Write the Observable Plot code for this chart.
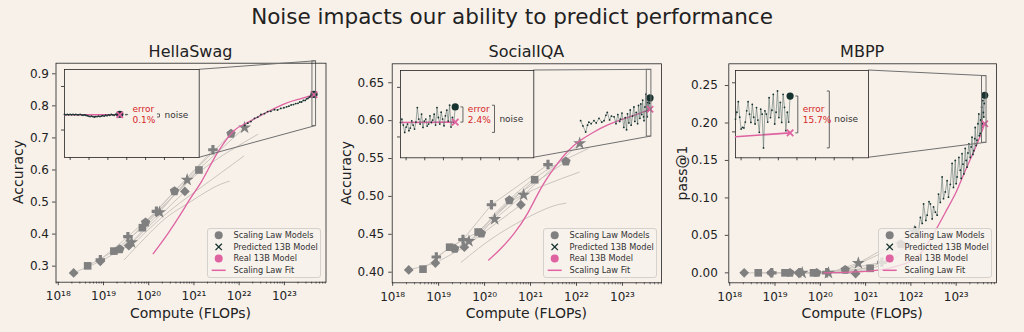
<!DOCTYPE html>
<html>
<head>
<meta charset="utf-8">
<script src="https://cdn.jsdelivr.net/npm/d3@7"></script>
<script src="https://cdn.jsdelivr.net/npm/@observablehq/plot@0.6"></script>
<style>
  html, body { margin: 0; padding: 0; background: #f7f1ea; }
  #root { position: relative; width: 1024px; height: 332px; overflow: hidden; font-family: "DejaVu Sans", sans-serif; color: #222; }
  .lbl { position: absolute; white-space: nowrap; line-height: 1; transform: translate(-50%, -50%); }
  .abs { position: absolute; }
</style>
</head>
<body>
<div id="root"></div>
<script>
// ================= DATA =================
const chartTitle = "Noise impacts our ability to predict performance";
const xLabel = "Compute (FLOPs)";
const legendItems = ["Scaling Law Models", "Predicted 13B Model", "Real 13B Model", "Scaling Law Fit"];
const xTickExp = [18, 19, 20, 21, 22, 23];
// marker of each scaling-ladder model (D diamond, S square, P plus, O pentagon, * star)
const modelShape = ["D","D","D","D","S","S","S","S","P","P","P","P","O","O","O","O","*","*","*","*"];

// ---- HellaSwag ----
const hsYTicks = [0.3, 0.4, 0.5, 0.6, 0.7, 0.8, 0.9];
const hsModelLogC = [18.34,18.93,19.56,20.80, 18.65,19.23,19.86,21.11, 18.93,19.54,20.17,21.42, 19.36,19.93,20.57,21.82, 19.62,20.24,20.85,22.12];
const hsModelAcc  = [0.279,0.315,0.364,0.533, 0.301,0.347,0.420,0.600, 0.320,0.392,0.471,0.663, 0.353,0.436,0.534,0.713, 0.374,0.468,0.569,0.732];
const hsTrendId   = ["a","a","a","a","a","b","b","b","b","c","c","c","c","c"];
const hsTrendLogC = [19.46,20.27,20.80,21.38,21.78, 19.70,20.40,21.16,22.10, 20.00,20.60,21.16,21.80,22.41];
const hsTrendAcc  = [0.320,0.437,0.490,0.541,0.565, 0.375,0.465,0.546,0.643, 0.445,0.525,0.598,0.660,0.711];
const hsFitLogC = [20.10,20.42,20.71,20.94,21.16,21.38,21.60,21.89,22.12,22.41,23.00,23.33,23.655];
const hsFitAcc  = [0.339,0.401,0.463,0.515,0.562,0.619,0.671,0.723,0.743,0.765,0.806,0.821,0.835];
const hsCkptLogC = [22.12,22.19,22.26,22.34,22.41,22.48,22.56,22.63,22.70,22.78,22.85,22.92,22.99,23.05,23.10,23.15,23.20,23.25,23.30,23.34,23.38,23.42,23.46,23.49,23.52,23.55,23.57,23.59,23.61,23.63,23.645,23.655];
const hsCkptAcc  = [0.739,0.746,0.751,0.761,0.765,0.773,0.776,0.782,0.783,0.788,0.787,0.792,0.794,0.797,0.799,0.803,0.804,0.807,0.808,0.812,0.812,0.817,0.817,0.822,0.823,0.827,0.828,0.831,0.832,0.834,0.833,0.836];
const hsInsetAcc = [0.836,0.835,0.836,0.835,0.836,0.835,0.836,0.835,0.836,0.835,
                    0.835,0.836,0.835,0.834,0.835,0.834,0.833,0.832,0.831,0.832,
                    0.831,0.830,0.831,0.831,0.832,0.831,0.832,0.833,0.832,0.834,
                    0.833,0.835,0.834,0.836,0.835,0.834,0.836,0.835,0.837,0.836];
const hsInsetFit = [0.835, 0.835];
const hsInsetTicks = [0.8, 0.9];

// ---- SocialIQA ----
const ssYTicks = [0.40, 0.45, 0.50, 0.55, 0.60, 0.65];
const ssModelLogC = [18.35,18.93,19.56,20.79, 18.66,19.24,19.86,21.09, 18.95,19.53,20.15,21.38, 19.35,19.93,20.54,21.77, 19.66,20.22,20.85,22.07];
const ssModelAcc  = [0.403,0.412,0.433,0.489, 0.404,0.433,0.453,0.522, 0.420,0.443,0.489,0.542, 0.431,0.451,0.495,0.546, 0.441,0.470,0.502,0.570];
const ssTrendId   = ["a","a","a","a","b","b","b","b","c","c","c","c"];
const ssTrendLogC = [19.49,20.30,21.27,21.77, 19.90,20.50,21.27,22.06, 20.10,20.80,21.50,22.25];
const ssTrendAcc  = [0.413,0.450,0.482,0.491, 0.455,0.490,0.514,0.532, 0.470,0.510,0.540,0.563];
const ssFitLogC = [20.09,20.35,20.64,20.93,21.22,21.51,21.80,22.09,22.38,22.67,22.96,23.25,23.60];
const ssFitAcc  = [0.416,0.431,0.451,0.477,0.510,0.537,0.559,0.574,0.585,0.594,0.601,0.607,0.615];
const ssCkptLogC = [22.09,22.14,22.20,22.24,22.27,22.32,22.38,22.43,22.49,22.55,22.60,22.64,22.67,22.72,22.76,22.82,22.86,22.90,22.94,22.96,
                    22.99,23.03,23.06,23.09,23.11,23.14,23.17,23.19,23.22,23.25,23.27,23.30,23.33,23.35,23.38,23.40,23.42,23.44,23.46,23.47,
                    23.49,23.51,23.52,23.54,23.55,23.56,23.57,23.58,23.59,23.60];
const ssCkptAcc  = [0.600,0.593,0.585,0.594,0.598,0.596,0.600,0.597,0.603,0.598,0.600,0.607,0.611,0.601,0.606,0.605,0.596,0.608,0.599,0.602,
                    0.610,0.591,0.604,0.588,0.609,0.597,0.614,0.594,0.606,0.618,0.599,0.611,0.596,0.620,0.603,0.622,0.608,0.627,0.605,0.600,
                    0.618,0.635,0.612,0.605,0.624,0.613,0.629,0.616,0.623,0.630];
const ssInsetAcc = [0.6146,0.6180,0.6120,0.6046,0.6100,0.6130,0.6063,0.6090,0.6163,0.6120,
                    0.6080,0.6150,0.6296,0.6180,0.6130,0.6230,0.6096,0.6160,0.6180,0.6110,
                    0.6130,0.6213,0.6146,0.6170,0.6230,0.6120,0.6296,0.6196,0.6130,0.6250,
                    0.6180,0.6113,0.6213,0.6270,0.6160,0.6320,0.6100,0.6196,0.6140,0.6303];
const ssInsetFit = [0.6146, 0.6150];
const ssInsetTicks = [0.60, 0.65];

// ---- MBPP ----
const mbYTicks = [0.00, 0.05, 0.10, 0.15, 0.20, 0.25];
const mbModelLogC = [18.32,18.91,19.52,20.78, 18.63,19.22,19.85,21.10, 18.93,19.55,20.14,21.36, 19.33,19.92,20.55,21.78, 19.60,20.18,20.84,22.08];
const mbModelPass = [0.000,0.000,0.000,-0.001, 0.000,0.000,0.000,0.006, 0.000,0.000,0.000,0.014, 0.000,0.000,0.004,0.038, 0.000,0.000,0.013,0.055];
const mbTrendId   = ["a","a","a","a","b","b","b","b"];
const mbTrendLogC = [20.20,21.00,21.60,22.00, 20.40,21.20,21.80,22.20];
const mbTrendPass = [0.000,0.004,0.018,0.035, 0.001,0.010,0.030,0.055];
const mbFitLogC = [20.08,21.00,21.50,21.90,22.20,22.50,22.80,23.00,23.17,23.46,23.63];
const mbFitPass = [0.000,0.002,0.006,0.013,0.025,0.052,0.085,0.108,0.132,0.172,0.199];
const mbCkptLogC = [22.10,22.16,22.21,22.25,22.28,22.33,22.36,22.40,22.43,22.47,22.50,22.54,22.58,22.61,22.65,22.69,22.72,22.76,22.80,22.83,
                    22.87,22.91,22.94,22.98,23.00,23.02,23.06,23.09,23.11,23.13,23.15,23.17,23.20,23.22,23.24,23.26,23.28,23.31,23.33,23.35,
                    23.37,23.39,23.41,23.42,23.44,23.46,23.48,23.50,23.51,23.53,23.54,23.56,23.57,23.58,23.59,23.60,23.61,23.62,23.63];
const mbCkptPass = [0.061,0.052,0.074,0.066,0.092,0.070,0.077,0.095,0.092,0.072,0.088,0.081,0.077,0.105,0.094,0.128,0.099,0.108,0.123,0.101,
                    0.118,0.146,0.114,0.150,0.119,0.128,0.154,0.137,0.126,0.159,0.145,0.132,0.166,0.150,0.141,0.160,0.172,0.154,0.168,0.181,
                    0.158,0.163,0.179,0.194,0.170,0.177,0.199,0.212,0.183,0.186,0.204,0.221,0.195,0.199,0.230,0.214,0.208,0.226,0.237];
const mbInsetPass = [0.2130,0.2200,0.2308,0.2150,0.2029,0.2045,0.2040,0.2100,0.2214,0.2308,
                     0.2180,0.2096,0.2281,0.2150,0.2080,0.2247,0.2120,0.1995,0.2231,0.2180,
                     0.1837,0.2214,0.2181,0.2100,0.2348,0.2146,0.2220,0.2382,0.2080,0.2200,
                     0.2416,0.2146,0.2300,0.2096,0.2382,0.2250,0.2012,0.2200,0.2100,0.2365];
const mbInsetFit = [0.195, 0.199];
const mbInsetTicks = [0.20, 0.25];

// ================= STYLE / LAYOUT =================
const BG = "#f7f1ea", GRAY = "#808080", LIGHT = "#cbc5bf", PINK = "#df62a1", DARK = "#17332f",
      NOISE = "#5b6f6b", RED = "#d62728", INK = "#222", CONN = "#707070";

const pentagon = {
  draw(ctx, size) {
    const R = Math.sqrt(size / 2.3776);
    for (let k = 0; k < 5; ++k) {
      const a = -Math.PI / 2 + k * 2 * Math.PI / 5;
      const x = R * Math.cos(a), y = R * Math.sin(a);
      k ? ctx.lineTo(x, y) : ctx.moveTo(x, y);
    }
    ctx.closePath();
  }
};
const shapeSymbol = {D: "diamond2", S: "square", P: "cross", O: pentagon, "*": "star"};
const shapeR = {D: 4.4, S: 4.3, P: 4.0, O: 4.3, "*": 4.1};

const panels = [
  {title: "HellaSwag", ylab: "Accuracy", ylabX: 18.3, svgLeft: 0, svgWidth: 340, yPad: 3.5,
   frame: {l: 55.5, r: 325.5, t: 62.7, b: 281.7}, xDom: [17.95, 23.92], yDom: [0.25, 0.933], yTicks: hsYTicks, yFmt: ".1f",
   modelLogC: hsModelLogC, modelVal: hsModelAcc, trendId: hsTrendId, trendLogC: hsTrendLogC, trendVal: hsTrendAcc,
   fitLogC: hsFitLogC, fitVal: hsFitAcc, ckptLogC: hsCkptLogC, ckptVal: hsCkptAcc,
   zoomLogC: [23.62, 23.70], insetDom: [0.737, 0.939], insetTicks: hsInsetTicks, insetVal: hsInsetAcc, insetFit: hsInsetFit,
   errLabel: "0.1%", inset: {l: 64.3, t: 69.3, w: 134.7, h: 88}},
  {title: "SocialIQA", ylab: "Accuracy", ylabX: 346, svgLeft: 340, svgWidth: 340, yPad: 4.5,
   frame: {l: 391.7, r: 661, t: 63.3, b: 282.3}, xDom: [17.99, 23.85], yDom: [0.386, 0.675], yTicks: ssYTicks, yFmt: ".2f",
   modelLogC: ssModelLogC, modelVal: ssModelAcc, trendId: ssTrendId, trendLogC: ssTrendLogC, trendVal: ssTrendAcc,
   fitLogC: ssFitLogC, fitVal: ssFitAcc, ckptLogC: ssCkptLogC, ckptVal: ssCkptAcc,
   zoomLogC: [23.53, 23.63], insetDom: [0.579, 0.667], insetTicks: ssInsetTicks, insetVal: ssInsetAcc, insetFit: ssInsetFit,
   errLabel: "2.4%", inset: {l: 400, t: 70, w: 133.3, h: 87.3}},
  {title: "MBPP", ylab: "pass@1", ylabX: 682, svgLeft: 680, svgWidth: 344, yPad: 7.5,
   frame: {l: 728.3, r: 996, t: 63.3, b: 282.3}, xDom: [17.98, 23.89], yDom: [-0.0133, 0.279], yTicks: mbYTicks, yFmt: ".2f",
   modelLogC: mbModelLogC, modelVal: mbModelPass, trendId: mbTrendId, trendLogC: mbTrendLogC, trendVal: mbTrendPass,
   fitLogC: mbFitLogC, fitVal: mbFitPass, ckptLogC: mbCkptLogC, ckptVal: mbCkptPass,
   zoomLogC: [23.57, 23.67], insetDom: [0.1736, 0.2625], insetTicks: mbInsetTicks, insetVal: mbInsetPass, insetFit: mbInsetFit,
   errLabel: "15.7%", inset: {l: 735, t: 70, w: 133, h: 87.3}}
];

const SUP = {"0":"⁰","1":"¹","2":"²","3":"³","4":"⁴","5":"⁵","6":"⁶","7":"⁷","8":"⁸","9":"⁹"};
const supLabel = e => "10" + String(e).split("").map(c => SUP[c]).join("");
function minorTicks([a, b]) {
  const out = [];
  for (let k = Math.floor(a); k <= Math.ceil(b); ++k)
    for (let m = 2; m <= 9; ++m) {
      const e = k + Math.log10(m);
      if (e > a && e < b) out.push(m * 10 ** k);
    }
  return out;
}
const insetXTicks = [4, 17.3, 30.6, 43.9, 57.2, 70.5, 83.8];
const plotStyle = {fontFamily: "DejaVu Sans, sans-serif", fontSize: "12px", background: "transparent", overflow: "visible", color: INK};

const root = document.getElementById("root");
function label(text, x, y, size, rotate) {
  const d = document.createElement("div");
  d.className = "lbl";
  d.textContent = text;
  d.style.left = x + "px"; d.style.top = y + "px"; d.style.fontSize = size + "px";
  if (rotate) d.style.transform = "translate(-50%, -50%) rotate(-90deg)";
  root.appendChild(d);
}

const overlay = d3.create("svg").attr("width", 1024).attr("height", 332)
  .style("position", "absolute").style("left", "0px").style("top", "0px").style("pointer-events", "none");
const insetLayer = [];

for (const p of panels) {
  const svgT = 40, svgH = 292;
  const fr = p.frame;
  const models = p.modelLogC.map((c, i) => ({x: 10 ** c, y: p.modelVal[i], s: modelShape[i]}));
  const trends = p.trendLogC.map((c, i) => ({x: 10 ** c, y: p.trendVal[i], id: p.trendId[i]}));
  const fit = p.fitLogC.map((c, i) => ({x: 10 ** c, y: p.fitVal[i]}));
  const ckpt = p.ckptLogC.map((c, i) => ({x: 10 ** c, y: p.ckptVal[i]}));
  const last = ckpt[ckpt.length - 1];
  const pred = {x: last.x, y: p.insetFit[1]};
  const zoomBox = {x1: 10 ** p.zoomLogC[0], x2: 10 ** p.zoomLogC[1], y1: p.insetDom[0], y2: p.insetDom[1]};

  const main = Plot.plot({
    width: p.svgWidth, height: svgH,
    marginLeft: fr.l - p.svgLeft, marginRight: p.svgLeft + p.svgWidth - fr.r,
    marginTop: fr.t - svgT, marginBottom: svgT + svgH - fr.b,
    x: {type: "log", domain: [10 ** p.xDom[0], 10 ** p.xDom[1]]},
    y: {domain: p.yDom},
    style: plotStyle,
    marks: [
      Plot.line(trends, {x: "x", y: "y", z: "id", stroke: LIGHT, strokeWidth: 1, curve: "natural"}),
      Plot.line(models, {x: "x", y: "y", z: "s", stroke: LIGHT, strokeWidth: 1}),
      ...Object.keys(shapeSymbol).map(k => Plot.dot(models.filter(d => d.s === k),
        {x: "x", y: "y", symbol: shapeSymbol[k], r: shapeR[k], fill: GRAY})),
      Plot.line(fit, {x: "x", y: "y", stroke: PINK, strokeWidth: 1.3, curve: "natural"}),
      Plot.line(ckpt, {x: "x", y: "y", stroke: NOISE, strokeWidth: 0.7, strokeOpacity: 0.85}),
      Plot.dot(ckpt, {x: "x", y: "y", r: 0.9, fill: DARK}),
      Plot.dot([last], {x: "x", y: "y", r: 3.6, fill: DARK}),
      Plot.dot([pred], {x: "x", y: "y", symbol: "times", r: 3, stroke: PINK, strokeWidth: 1.8}),
      Plot.rect([zoomBox], {x1: "x1", x2: "x2", y1: "y1", y2: "y2", fill: "none", stroke: CONN, strokeWidth: 1}),
      Plot.frame({stroke: INK, strokeWidth: 0.8}),
      Plot.axisX(minorTicks(p.xDom), {tickSize: 2, tickFormat: () => "", label: null, color: INK, strokeWidth: 0.6}),
      Plot.axisX(xTickExp.map(e => 10 ** e), {tickSize: 3.5, tickFormat: () => "", label: null, color: INK, strokeWidth: 0.8}),
      Plot.text(xTickExp, {x: e => 10 ** e, text: supLabel, frameAnchor: "bottom", lineAnchor: "top", dy: 9.5, fontSize: 12, fill: INK}),
      Plot.axisY(p.yTicks, {tickSize: 3.5, tickPadding: p.yPad, tickFormat: d3.format(p.yFmt), label: null, fontSize: 12, color: INK, strokeWidth: 0.8})
    ]
  });
  main.style.position = "absolute";
  main.style.left = p.svgLeft + "px";
  main.style.top = svgT + "px";
  root.appendChild(main);

  // connectors from inset to zoom rectangle (through the main plot's scales)
  const sx = main.scale("x"), sy = main.scale("y");
  const rx = p.svgLeft + sx.apply(zoomBox.x2);
  const ryTop = svgT + sy.apply(zoomBox.y2), ryBot = svgT + sy.apply(zoomBox.y1);
  const ib = p.inset;
  overlay.append("line").attr("x1", ib.l + ib.w).attr("y1", ib.t).attr("x2", rx).attr("y2", ryTop)
    .attr("stroke", CONN).attr("stroke-width", 1);
  overlay.append("line").attr("x1", ib.l + ib.w).attr("y1", ib.t + ib.h).attr("x2", rx).attr("y2", ryBot)
    .attr("stroke", CONN).attr("stroke-width", 1);

  // inset
  const ins = p.insetVal.map((v, i) => ({i, y: v}));
  const n = ins.length - 1;
  const real = ins[n].y, predicted = p.insetFit[1];
  const [nMin, nMax] = d3.extent(p.insetVal);
  const errBr = [{i: n + 4, y: real}, {i: n + 5.5, y: real}, {i: n + 5.5, y: predicted}, {i: n + 4, y: predicted}];
  const noiseBr = [{i: n + 26.5, y: nMax}, {i: n + 28, y: nMax}, {i: n + 28, y: nMin}, {i: n + 26.5, y: nMin}];
  const errMid = (real + predicted) / 2, noiseMid = (nMin + nMax) / 2;
  const inset = Plot.plot({
    width: ib.w + 6, height: ib.h + 6, marginLeft: 5, marginRight: 1, marginTop: 1, marginBottom: 5,
    x: {domain: [0, 95]}, y: {domain: p.insetDom},
    style: {...plotStyle, fontSize: "9px"},
    marks: [
      Plot.frame({fill: BG, stroke: INK, strokeWidth: 0.8}),
      Plot.line([{i: 0, y: p.insetFit[0]}, {i: n, y: p.insetFit[1]}], {x: "i", y: "y", stroke: PINK, strokeWidth: 1.6}),
      Plot.line(ins, {x: "i", y: "y", stroke: NOISE, strokeWidth: 0.7, strokeOpacity: 0.85}),
      Plot.dot(ins, {x: "i", y: "y", r: 0.9, fill: DARK}),
      Plot.dot([ins[n]], {x: "i", y: "y", r: 3.6, fill: DARK}),
      Plot.dot([{i: n, y: predicted}], {x: "i", y: "y", symbol: "times", r: 3, stroke: PINK, strokeWidth: 1.8}),
      Plot.line(errBr, {x: "i", y: "y", stroke: "#555", strokeWidth: 0.9}),
      Plot.line(noiseBr, {x: "i", y: "y", stroke: "#555", strokeWidth: 0.9}),
      Plot.text([{i: n + 9, y: errMid}], {x: "i", y: "y", text: () => "error", dy: -5.5, textAnchor: "start", fill: RED, fontSize: 9}),
      Plot.text([{i: n + 9, y: errMid}], {x: "i", y: "y", text: () => p.errLabel, dy: 5.5, textAnchor: "start", fill: RED, fontSize: 9}),
      Plot.text([{i: n + 31.5, y: noiseMid}], {x: "i", y: "y", text: () => "noise", textAnchor: "start", fill: "#333", fontSize: 9}),
      Plot.axisX(insetXTicks, {tickSize: 3, tickFormat: () => "", label: null, color: INK, strokeWidth: 0.8}),
      Plot.axisY(p.insetTicks, {tickSize: 3, tickFormat: () => "", label: null, color: INK, strokeWidth: 0.8})
    ]
  });
  inset.style.position = "absolute";
  inset.style.left = (ib.l - 5) + "px";
  inset.style.top = (ib.t - 1) + "px";
  insetLayer.push(inset);

  // labels
  label(p.title, (fr.l + fr.r) / 2, 51.7, 16);
  label(xLabel, (fr.l + fr.r) / 2, 313, 14);
  label(p.ylab, p.ylabX, (fr.t + fr.b) / 2, 14, true);
  p._fr = fr;
}

root.appendChild(overlay.node());
insetLayer.forEach(s => root.appendChild(s));

// legends
for (const p of panels) {
  const w = 114, h = 50, fr = p._fr;
  const div = document.createElement("div");
  div.className = "abs";
  Object.assign(div.style, {left: (fr.r - 4.3 - w) + "px", top: (fr.b - 4 - h) + "px", width: w + "px", height: h + "px",
    border: "1px solid #d5d1cc", borderRadius: "3px", background: "rgba(248,243,237,0.8)", boxSizing: "border-box"});
  const svg = d3.create("svg").attr("width", w).attr("height", h)
    .style("position", "absolute").style("left", "-1px").style("top", "-1px").style("overflow", "visible");
  legendItems.forEach((t, i) => {
    const cy = 7.2 + i * 11.7, cx = 11.7;
    if (i === 0) svg.append("circle").attr("cx", cx).attr("cy", cy).attr("r", 4).attr("fill", GRAY);
    if (i === 1) svg.append("path").attr("d", `M${cx-3.2},${cy-3.2}L${cx+3.2},${cy+3.2}M${cx-3.2},${cy+3.2}L${cx+3.2},${cy-3.2}`)
      .attr("stroke", DARK).attr("stroke-width", 1.3);
    if (i === 2) svg.append("circle").attr("cx", cx).attr("cy", cy).attr("r", 4).attr("fill", PINK);
    if (i === 3) svg.append("line").attr("x1", cx - 7).attr("x2", cx + 7).attr("y1", cy).attr("y2", cy)
      .attr("stroke", PINK).attr("stroke-width", 1.5);
    svg.append("text").attr("x", 26.5).attr("y", cy).attr("dy", "0.35em").attr("font-size", 8.2)
      .attr("font-family", "DejaVu Sans, sans-serif").attr("fill", "#333").text(t);
  });
  div.appendChild(svg.node());
  root.appendChild(div);
}

label(chartTitle, 512, 17, 21.5);
</script>
</body>
</html>
